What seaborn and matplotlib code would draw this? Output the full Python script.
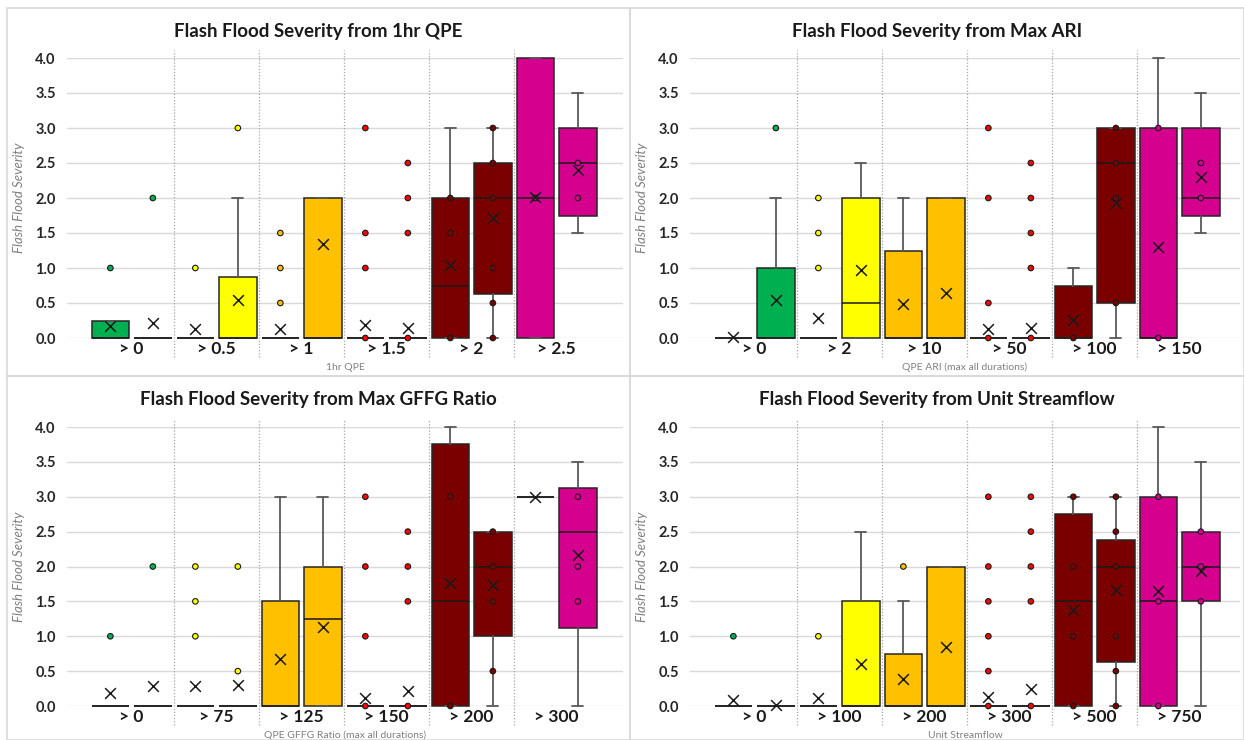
import numpy as np
import pandas as pd
import seaborn as sns
import matplotlib.pyplot as plt

# fill colour for each threshold class (two boxes per class)
class_colors = ['#00B050', '#FFFF00', '#FFC000', '#FF0000', '#7A0000', '#D6008F']

# ── 1hr QPE ───────────────────────────────────────────────────────────────────
qpe_labels = ['> 0', '> 0.5', '> 1', '> 1.5', '> 2', '> 2.5']
qpe_wlo  = [0, 0, 0, 0, 0, 0, 0, 0, 0, 0, 0, 1.5]
qpe_q1   = [0, 0, 0, 0, 0, 0, 0, 0, 0, 0.625, 0, 1.75]
qpe_med  = [0, 0, 0, 0, 0, 0, 0, 0, 0.75, 2.0, 2.0, 2.5]
qpe_q3   = [0.25, 0, 0, 0.875, 0, 2.0, 0, 0, 2.0, 2.5, 4.0, 3.0]
qpe_whi  = [0.25, 0, 0, 2.0, 0, 2.0, 0, 0, 3.0, 3.0, 4.0, 3.5]
qpe_mean = [0.17, 0.22, 0.13, 0.54, 0.13, 1.35, 0.18, 0.15, 1.04, 1.71, 2.01, 2.40]
qpe_pts  = [[1.0], [2.0], [1.0], [3.0], [0.5, 1.0, 1.5], [],
            [0, 1.0, 1.5, 3.0], [0, 1.5, 2.0, 2.5], [0, 1.5, 2.0],
            [0, 0.5, 1.0, 2.0, 2.5, 3.0], [2.0], [2.0, 2.5]]

# ── Max ARI ───────────────────────────────────────────────────────────────────
ari_labels = ['> 0', '> 2', '> 10', '> 50', '> 100', '> 150']
ari_wlo  = [0, 0, 0, 0, 0, 0, 0, 0, 0, 0, 0, 1.5]
ari_q1   = [0, 0, 0, 0, 0, 0, 0, 0, 0, 0.5, 0, 1.75]
ari_med  = [0, 0, 0, 0.5, 0, 0, 0, 0, 0, 2.5, 0, 2.0]
ari_q3   = [0, 1.0, 0, 2.0, 1.25, 2.0, 0, 0, 0.75, 3.0, 3.0, 3.0]
ari_whi  = [0, 2.0, 0, 2.5, 2.0, 2.0, 0, 0, 1.0, 3.0, 4.0, 3.5]
ari_mean = [0.01, 0.54, 0.28, 0.97, 0.48, 0.65, 0.13, 0.15, 0.26, 1.93, 1.30, 2.30]
ari_pts  = [[], [3.0], [1.0, 1.5, 2.0], [], [], [],
            [0, 0.5, 2.0, 3.0], [0, 1.0, 1.5, 2.0, 2.5], [0],
            [0.5, 2.0, 2.5, 3.0], [0, 3.0], [2.0, 2.5]]

# ── Max GFFG Ratio ────────────────────────────────────────────────────────────
gffg_labels = ['> 0', '> 75', '> 125', '> 150', '> 200', '> 300']
gffg_wlo  = [0, 0, 0, 0, 0, 0, 0, 0, 0, 0, 3.0, 0]
gffg_q1   = [0, 0, 0, 0, 0, 0, 0, 0, 0, 1.0, 3.0, 1.125]
gffg_med  = [0, 0, 0, 0, 0, 1.25, 0, 0, 1.5, 2.0, 3.0, 2.5]
gffg_q3   = [0, 0, 0, 0, 1.5, 2.0, 0, 0, 3.75, 2.5, 3.0, 3.125]
gffg_whi  = [0, 0, 0, 0, 3.0, 3.0, 0, 0, 4.0, 2.5, 3.0, 3.5]
gffg_mean = [0.18, 0.29, 0.28, 0.30, 0.68, 1.13, 0.11, 0.21, 1.76, 1.73, 3.0, 2.17]
gffg_pts  = [[1.0], [2.0], [1.0, 1.5, 2.0], [0.5, 2.0], [], [],
             [0, 1.0, 2.0, 3.0], [0, 1.5, 2.0, 2.5], [0, 3.0],
             [0.5, 1.5, 2.0, 2.5], [], [1.5, 2.0, 3.0]]

# ── Unit Streamflow ───────────────────────────────────────────────────────────
flow_labels = ['> 0', '> 100', '> 200', '> 300', '> 500', '> 750']
flow_wlo  = [0, 0, 0, 0, 0, 0, 0, 0, 0, 0, 0, 0]
flow_q1   = [0, 0, 0, 0, 0, 0, 0, 0, 0, 0.625, 0, 1.5]
flow_med  = [0, 0, 0, 0, 0, 0, 0, 0, 1.5, 2.0, 1.5, 2.0]
flow_q3   = [0, 0, 0, 1.5, 0.75, 2.0, 0, 0, 2.75, 2.375, 3.0, 2.5]
flow_whi  = [0, 0, 0, 2.5, 1.5, 2.0, 0, 0, 3.0, 3.0, 4.0, 3.5]
flow_mean = [0.09, 0.02, 0.12, 0.60, 0.39, 0.85, 0.13, 0.24, 1.38, 1.67, 1.65, 1.94]
flow_pts  = [[1.0], [], [1.0], [], [2.0], [],
             [0, 0.5, 1.0, 1.5, 2.0, 3.0], [0, 1.5, 2.0, 2.5, 3.0],
             [0, 1.0, 2.0, 3.0], [0, 0.5, 1.0, 2.0, 2.5, 3.0],
             [0, 1.5, 3.0], [1.5, 2.0, 2.5]]

panels = [
    ('Flash Flood Severity from 1hr QPE', '1hr QPE', qpe_labels,
     qpe_wlo, qpe_q1, qpe_med, qpe_q3, qpe_whi, qpe_mean, qpe_pts),
    ('Flash Flood Severity from Max ARI', 'QPE ARI (max all durations)', ari_labels,
     ari_wlo, ari_q1, ari_med, ari_q3, ari_whi, ari_mean, ari_pts),
    ('Flash Flood Severity from Max GFFG Ratio', 'QPE GFFG Ratio (max all durations)', gffg_labels,
     gffg_wlo, gffg_q1, gffg_med, gffg_q3, gffg_whi, gffg_mean, gffg_pts),
    ('Flash Flood Severity from Unit Streamflow', 'Unit Streamflow', flow_labels,
     flow_wlo, flow_q1, flow_med, flow_q3, flow_whi, flow_mean, flow_pts),
]

sns.set_style('white')
plt.rcParams['font.family'] = ['Lato', 'DejaVu Sans']

W, H = 1244, 740
fig = plt.figure(figsize=(W / 100, H / 100), dpi=100)

# pixel rectangles: plot area (left, top, right, bottom) and panel frame
plot_px  = [(67, 58, 623, 338), (690, 58, 1240, 338),
            (67, 427, 623, 706), (690, 427, 1240, 706)]
frame_px = [(7, 8, 630, 376), (630, 8, 1244, 376),
            (7, 376, 630, 740), (630, 376, 1244, 740)]
title_y  = [32, 32, 399, 399]
cat_px = 85.0

# ── Panel frames ──────────────────────────────────────────────────────────────
for (l, t, r, b) in frame_px:
    fig.add_artist(plt.Rectangle((l / W, 1 - b / H), (r - l) / W, (b - t) / H,
                                 transform=fig.transFigure, fill=False,
                                 edgecolor='#d9d9d9', lw=1.2))

for k, (title, xtitle, labels, wlo, q1, med, q3, whi, mean, pts) in enumerate(panels):
    l, t, r, b = plot_px[k]
    ax = fig.add_axes([l / W, 1 - b / H, (r - l) / W, (b - t) / H])

    n = len(wlo)
    cat = np.arange(n) // 2
    pos = cat + np.where(np.arange(n) % 2 == 0, -0.25, 0.25)

    stats = [dict(whislo=wlo[i], q1=q1[i], med=med[i], q3=q3[i], whishi=whi[i])
             for i in range(n)]
    art = ax.bxp(stats, positions=pos, widths=0.44, capwidths=0.13,
                 showfliers=False, patch_artist=True,
                 boxprops=dict(edgecolor='#262626', lw=1.1),
                 whiskerprops=dict(color='#595959', lw=1.3),
                 capprops=dict(color='#595959', lw=1.3),
                 medianprops=dict(color='#1a1a1a', lw=1.1))
    for i, patch in enumerate(art['boxes']):
        patch.set_facecolor(class_colors[cat[i]])
    for group in art.values():
        for a in group:
            a.set_clip_on(False)

    # inner points and outliers
    pt_df = pd.DataFrame([(pos[i], v, cat[i]) for i in range(n) for v in pts[i]],
                         columns=['x', 'y', 'cls'])
    sns.scatterplot(data=pt_df, x='x', y='y', hue='cls',
                    palette=dict(enumerate(class_colors)), legend=False,
                    s=16, edgecolor='#1a1a1a', linewidth=0.8, zorder=4,
                    clip_on=False, ax=ax)

    # means
    mean_df = pd.DataFrame({'x': pos, 'y': mean})
    sns.scatterplot(data=mean_df, x='x', y='y', marker='x', color='#1a1a1a',
                    s=60, linewidth=1.1, zorder=5, clip_on=False, ax=ax)

    # dotted separators between classes
    for c in range(len(labels) - 1):
        ax.plot([c + 0.5, c + 0.5], [-0.068, 1.03], color='#a6a6a6', lw=0.9,
                ls=(0, (1, 1.5)), transform=ax.get_xaxis_transform(),
                clip_on=False, zorder=1)

    x0 = -0.76
    ax.set_xlim(x0, x0 + (r - l) / cat_px)
    ax.set_ylim(0, 4)
    ax.set_yticks(np.arange(0, 4.01, 0.5))
    ax.set_yticklabels([f'{v:.1f}' for v in np.arange(0, 4.01, 0.5)],
                       fontsize=10.5, fontweight='bold', color='#262626')
    ax.set_xticks(range(len(labels)))
    ax.set_xticklabels(labels, fontsize=12.5, fontweight='bold', color='#1a1a1a')
    ax.tick_params(axis='both', length=0)
    ax.tick_params(axis='x', pad=2.5)
    ax.tick_params(axis='y', pad=8)
    ax.yaxis.grid(True, color='#d9d9d9', lw=1.0)
    ax.xaxis.grid(False)
    ax.set_axisbelow(True)
    sns.despine(ax=ax, left=True, bottom=True)

    ax.set_xlabel('')
    ax.set_ylabel('Flash Flood Severity', fontsize=9.5, style='italic', color='#7f7f7f')
    ax.yaxis.set_label_coords(-42 / (r - l), 0.5)
    ax.text(0.5, -29 / (b - t), xtitle, transform=ax.transAxes, ha='center',
            va='center', fontsize=7.5, color='#808080')

    fl, ft, fr, fb = frame_px[k]
    fig.text((fl + fr) / 2 / W, 1 - title_y[k] / H, title, ha='center', va='center',
             fontsize=13.5, fontweight='bold', color='#1a1a1a')

plt.savefig('out.png', dpi=100)
